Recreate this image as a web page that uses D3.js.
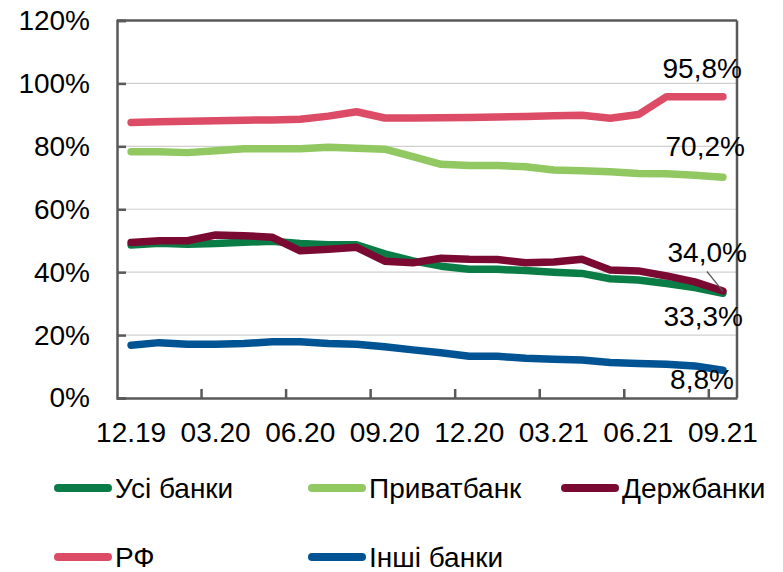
<!DOCTYPE html>
<html>
<head>
<meta charset="utf-8">
<script src="https://cdn.jsdelivr.net/npm/d3@7"></script>
<style>
  html, body { margin: 0; padding: 0; background: #fff; }
  svg { display: block; }
  text { font-family: "Liberation Sans", Arial, sans-serif; fill: #000; }
</style>
</head>
<body>
<svg id="chart" width="783" height="572"></svg>
<script>
const dates = ["12.19","01.20","02.20","03.20","04.20","05.20","06.20","07.20","08.20","09.20","10.20","11.20",
               "12.20","01.21","02.21","03.21","04.21","05.21","06.21","07.21","08.21","09.21"];
const tickLabels = ["12.19","03.20","06.20","09.20","12.20","03.21","06.21","09.21"];
const yTicks = [0, 20, 40, 60, 80, 100, 120];

const allBanks  = [48.6, 49.2, 48.9, 49.1, 49.5, 49.8, 49.1, 48.7, 48.7, 45.8, 43.6, 41.9, 40.9, 40.9, 40.5, 40.0, 39.6, 37.9, 37.5, 36.4, 35.1, 33.3];
const privat    = [78.3, 78.3, 78.0, 78.6, 79.2, 79.2, 79.2, 79.7, 79.4, 79.1, 76.7, 74.3, 73.9, 73.9, 73.5, 72.5, 72.2, 71.9, 71.4, 71.3, 70.8, 70.2];
const stateBanks= [49.4, 50.0, 50.0, 51.8, 51.6, 51.1, 46.8, 47.3, 47.9, 43.5, 43.0, 44.4, 44.1, 44.0, 43.0, 43.2, 44.1, 40.7, 40.4, 38.8, 36.9, 34.0];
const rf        = [87.6, 87.8, 88.0, 88.1, 88.3, 88.4, 88.6, 89.6, 91.0, 89.0, 89.0, 89.1, 89.2, 89.3, 89.5, 89.7, 89.9, 88.9, 90.1, 95.8, 95.8, 95.8];
const others    = [16.8, 17.6, 17.1, 17.1, 17.3, 17.9, 17.9, 17.3, 17.1, 16.3, 15.3, 14.4, 13.3, 13.3, 12.6, 12.3, 12.1, 11.3, 11.0, 10.7, 10.2, 8.8];

const seriesNames  = ["Усі банки", "Приватбанк", "Держбанки", "РФ", "Інші банки"];
const seriesColors = ["#0A7D46", "#92C862", "#7B0A33", "#DC4C66", "#005494"];
const seriesValues = [allBanks, privat, stateBanks, rf, others];

const endLabels = ["33,3%", "70,2%", "34,0%", "95,8%", "8,8%"];

const svg = d3.select("#chart");
const L = 117, R = 737, T = 20.5, B = 398;

const x = d3.scaleBand().domain(dates).range([L, R]).padding(0);
const y = d3.scaleLinear().domain([0, 120]).range([B, T]);
const cx = d => x(d) + x.bandwidth() / 2;

// gridlines
svg.append("g").selectAll("line").data(yTicks.filter(v => v > 0 && v < 120)).join("line")
  .attr("x1", L).attr("x2", R).attr("y1", d => y(d)).attr("y2", d => y(d))
  .attr("stroke", "#D0D0D0").attr("stroke-width", 1.2);

// plot border top & right
svg.append("line").attr("x1", L).attr("x2", R).attr("y1", T).attr("y2", T).attr("stroke", "#595959").attr("stroke-width", 2.5);
svg.append("line").attr("x1", R).attr("x2", R).attr("y1", T).attr("y2", B).attr("stroke", "#595959").attr("stroke-width", 2.5);

// y axis
const yAxis = d3.axisLeft(y).tickValues(yTicks).tickSize(-9).tickFormat(d => d + "%").tickPadding(27);
const gy = svg.append("g").attr("transform", `translate(${L},0)`).call(yAxis);
gy.select(".domain").attr("stroke", "#595959").attr("stroke-width", 2.5);
gy.selectAll(".tick line").attr("stroke", "#595959").attr("stroke-width", 2.5);
gy.selectAll(".tick text").attr("font-size", 28).attr("font-family", "Liberation Sans, Arial, sans-serif").attr("fill", "#000");

// x axis
const xAxis = d3.axisBottom(x).tickValues(tickLabels).tickSize(0).tickPadding(24);
const gx = svg.append("g").attr("transform", `translate(0,${B})`).call(xAxis);
gx.select(".domain").attr("stroke", "#595959").attr("stroke-width", 2.5);
gx.selectAll(".tick text").attr("font-size", 28).attr("font-family", "Liberation Sans, Arial, sans-serif").attr("fill", "#000");

// x tick marks between categories every 3 months
const boundaries = dates.filter((d, i) => i > 0 && i % 3 === 0);
svg.append("g").selectAll("line").data(boundaries).join("line")
  .attr("x1", d => x(d)).attr("x2", d => x(d)).attr("y1", B).attr("y2", B - 9)
  .attr("stroke", "#595959").attr("stroke-width", 2.5);

// lines
const line = d3.line().x((d, i) => cx(dates[i])).y(d => y(d));
seriesValues.forEach((vals, k) => {
  svg.append("path").datum(vals)
    .attr("d", line).attr("fill", "none")
    .attr("stroke", seriesColors[k]).attr("stroke-width", 7.5)
    .attr("stroke-linecap", "round").attr("stroke-linejoin", "round");
});

// end labels
const lastD = dates[dates.length - 1];
const lx = cx(lastD);
const labelPos = [
  {k: 0, dx: 20, y: 326},
  {k: 1, dx: 22, y: 156},
  {k: 2, dx: 24, y: 262},
  {k: 3, dx: 19, y: 78},
  {k: 4, dx: 11, y: 389}
];
labelPos.forEach(p => {
  svg.append("text").attr("x", lx + p.dx).attr("y", p.y)
    .attr("text-anchor", "end").attr("font-size", 28).text(endLabels[p.k]);
});
// leader line for 34,0%
svg.append("line")
  .attr("x1", lx - 16).attr("y1", 271.5)
  .attr("x2", lx).attr("y2", y(stateBanks[stateBanks.length - 1]))
  .attr("stroke", "#595959").attr("stroke-width", 1.2);

// legend
const legendItems = [
  {k: 0, x: 55, y: 488},
  {k: 1, x: 309, y: 488},
  {k: 2, x: 562, y: 488},
  {k: 3, x: 55, y: 557},
  {k: 4, x: 309, y: 557}
];
const lg = svg.append("g");
legendItems.forEach(it => {
  lg.append("line").attr("x1", it.x + 3).attr("x2", it.x + 53).attr("y1", it.y).attr("y2", it.y)
    .attr("stroke", seriesColors[it.k]).attr("stroke-width", 8).attr("stroke-linecap", "round");
  lg.append("text").attr("x", it.x + 60).attr("y", it.y + 10).attr("font-size", 28).text(seriesNames[it.k]);
});
</script>
</body>
</html>
